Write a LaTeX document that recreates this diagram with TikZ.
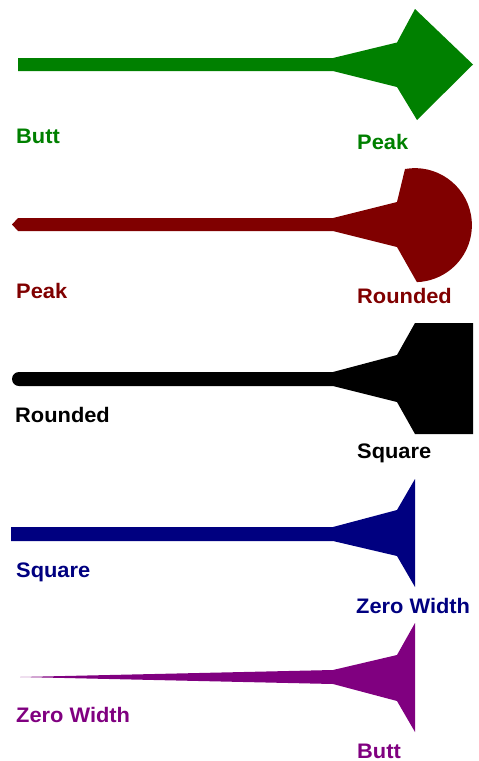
\documentclass[tikz,border=0pt]{standalone}
\usepackage{fontspec}
\setmainfont{Liberation Sans}
\definecolor{capgreen}{HTML}{008000}
\definecolor{capmaroon}{HTML}{800000}
\definecolor{capnavy}{HTML}{000080}
\definecolor{cappurple}{HTML}{800080}
\tikzset{
	lbl/.style = {anchor=base west, inner sep=0pt, xscale=1.04, font=\bfseries\fontsize{21}{25}\selectfont}
}
\begin{document}
\begin{tikzpicture}[x=1pt, y=-1pt]
		\useasboundingbox (0,0) rectangle (479,761);
		\begin{scope}[shift={(0,64.5)}]
			\fill[capgreen] (18,-6.5) -- (333,-6.5) -- (397,-22) -- (415,-55.5) -- (473,0) -- (417,55.5) -- (397,22.5) -- (333,6.5) -- (18,6.5) -- cycle;
		\end{scope}
		\node[lbl, text=capgreen] (greenstart) at (16,143){Butt};
		\node[lbl, text=capgreen] (greenend) at (357,149){Peak};
		\begin{scope}[shift={(0,224.5)}]
			\fill[capmaroon] (12,0) -- (18,-6.5) -- (333,-6.5) -- (397,-22.5) -- (405,-55.5) arc[start angle=-100, end angle=88, radius=57] -- (397,22.5) -- (333,6.5) -- (18,6.5) -- cycle;
		\end{scope}
		\node[lbl, text=capmaroon] (redstart) at (16,298){Peak};
		\node[lbl, text=capmaroon] (redend) at (357,303){Rounded};
		\begin{scope}[shift={(0,379)}]
			\fill[black] (19,-7) -- (333,-7) -- (397,-24) -- (415,-56) -- (473,-56) -- (473,55) -- (415,55) -- (397,23) -- (333,7) -- (19,7) arc[start angle=90, end angle=270, radius=7] -- cycle;
		\end{scope}
		\node[lbl, text=black] (blackstart) at (15,422){Rounded};
		\node[lbl, text=black] (blackend) at (357,458){Square};
		\begin{scope}[shift={(0,534)}]
			\fill[capnavy] (11,-7) -- (333,-7) -- (397,-24) -- (415,-55) -- (415,53) -- (397,22) -- (333,7) -- (11,7) -- cycle;
		\end{scope}
		\node[lbl, text=capnavy] (bluestart) at (16,577){Square};
		\node[lbl, text=capnavy] (blueend) at (356,613){Zero Width};
		\begin{scope}[shift={(0,677)}]
			\fill[cappurple] (20,0) -- (333,-7) -- (397,-22) -- (415,-54) -- (415,55) -- (397,24) -- (333,7) -- cycle;
		\end{scope}
		\node[lbl, text=cappurple] (purplestart) at (16,722){Zero Width};
		\node[lbl, text=cappurple] (purpleend) at (357,758){Butt};
	\end{tikzpicture}
\end{document}
